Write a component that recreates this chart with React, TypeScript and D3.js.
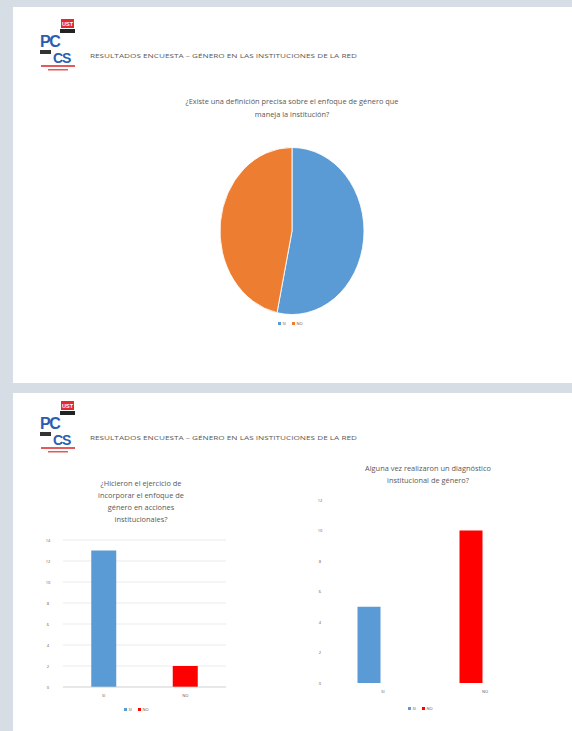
import React from "react";
import * as d3 from "d3";

const W = 572;
const H = 731;

const headerText = "RESULTADOS ENCUESTA – GÉNERO EN LAS INSTITUCIONES DE LA RED";

const pieTitle = ["¿Existe una definición precisa sobre el enfoque de género que", "maneja la institución?"];
const pieCategories = ["SI", "NO"];
const pieValues = [8, 7];
const pieColors = ["#5b9bd5", "#ed7d31"];

const bar1Title = ["¿Hicieron el ejercicio de", "incorporar el enfoque de", "género en acciones", "institucionales?"];
const bar1Categories = ["SI", "NO"];
const bar1Values = [13, 2];
const bar1Ticks = [0, 2, 4, 6, 8, 10, 12, 14];

const bar2Title = ["Alguna vez realizaron un diagnóstico", "institucional de género?"];
const bar2Categories = ["SI", "NO"];
const bar2Values = [5, 10];
const bar2Ticks = [0, 2, 4, 6, 8, 10, 12];

const barColors = ["#5b9bd5", "#ff0000"];
const TXT = "#595959";
const FONT = "Open Sans, sans-serif";
const LOGO_FONT = "Liberation Sans, sans-serif";

function Logo({ x, y }: { x: number; y: number }) {
  return (
    <g transform={`translate(${x},${y})`}>
      <rect x={21} y={0} width={13} height={9} fill="#e32b2b" />
      <text x={27.5} y={7} fontSize={5.5} fill="#fff" textAnchor="middle" fontWeight="bold" fontFamily={LOGO_FONT}>UST</text>
      <rect x={20} y={10} width={15} height={4} fill="#222" />
      <text x={0} y={28} fontSize={16} fill="#2a5db0" fontWeight="bold" fontFamily={LOGO_FONT} letterSpacing={-1.5}>PC</text>
      <text x={13} y={44} fontSize={14} fill="#2a5db0" fontWeight="bold" fontFamily={LOGO_FONT} letterSpacing={-1}>CS</text>
      <rect x={0} y={31} width={11} height={4} fill="#333" />
      <rect x={1} y={46} width={34} height={2} fill="#e35a5a" />
      <rect x={8} y={50} width={20} height={1.5} fill="#e35a5a" />
    </g>
  );
}

function Header({ y }: { y: number }) {
  return (
    <g>
      <Logo x={40} y={y - 39} />
      <text x={90} y={y} fontSize={6} fill={TXT} fontFamily={FONT} textLength={267} lengthAdjust="spacingAndGlyphs">{headerText}</text>
    </g>
  );
}

function Legend({ cx, y, cats, colors }: { cx: number; y: number; cats: string[]; colors: string[] }) {
  const step = 14;
  const start = cx - (cats.length * step) / 2;
  return (
    <g>
      {cats.map((c, i) => (
        <g key={c} transform={`translate(${start + i * step},${y})`}>
          <rect x={0} y={-3} width={3} height={3} fill={colors[i]} />
          <text x={4.5} y={0} fontSize={4} fill={TXT} fontFamily={FONT}>{c}</text>
        </g>
      ))}
    </g>
  );
}

function PieChart() {
  const cx = 292, cy = 231, r = 72, sy = 1.16;
  const arcs = d3.pie<number>().sort(null)(pieValues);
  const arc = d3.arc<d3.PieArcDatum<number>>().innerRadius(0).outerRadius(r);
  return (
    <g>
      {pieTitle.map((t, i) => (
        <text key={i} x={292} y={104 + i * 13} fontSize={7.4} fill={TXT} textAnchor="middle" fontFamily={FONT}>{t}</text>
      ))}
      <g transform={`translate(${cx},${cy}) scale(1,${sy})`}>
        {arcs.map((a, i) => (
          <path key={i} d={arc(a) || ""} fill={pieColors[i]} stroke="#fff" strokeWidth={0.8} />
        ))}
      </g>
      <Legend cx={292} y={325} cats={pieCategories} colors={pieColors} />
    </g>
  );
}

function BarChart({ title, titleX, titleY, cats, values, ticks, x0, x1, y0, y1, barW, offset, grid, labelX }: any) {
  const x = d3.scaleBand<string>().domain(cats).range([x0, x1]);
  const y = d3.scaleLinear().domain([0, ticks[ticks.length - 1]]).range([y0, y1]);
  return (
    <g>
      {title.map((t: string, i: number) => (
        <text key={i} x={titleX} y={titleY + i * 12} fontSize={7.4} fill={TXT} textAnchor="middle" fontFamily={FONT}>{t}</text>
      ))}
      {ticks.map((t: number) => (
        <g key={t}>
          {grid && <line x1={x0} x2={x1} y1={y(t)} y2={y(t)} stroke="#e3e3e3" strokeWidth={0.7} />}
          <text x={labelX} y={y(t) + 1.5} fontSize={4} fill={TXT} textAnchor="middle" fontFamily={FONT}>{t}</text>
        </g>
      ))}
      {values.map((v: number, i: number) => {
        const c = (x(cats[i]) as number) + x.bandwidth() / 2 + offset;
        return <rect key={i} x={c - barW / 2} y={y(v)} width={barW} height={y(0) - y(v)} fill={barColors[i]} />;
      })}
      {grid && <line x1={x0} x2={x1} y1={y(0)} y2={y(0)} stroke="#d0d0d0" strokeWidth={0.7} />}
      {cats.map((c: string) => (
        <text key={c} x={(x(c) as number) + x.bandwidth() / 2} y={y(0) + 10} fontSize={4} fill={TXT} textAnchor="middle" fontFamily={FONT}>{c}</text>
      ))}
    </g>
  );
}

export default function App() {
  return (
    <svg width={W} height={H} style={{ position: "absolute", left: 0, top: 0 }}>
      <rect x={0} y={0} width={W} height={H} fill="#d6dde5" />
      <rect x={13} y={7} width={W - 13} height={376} fill="#fff" />
      <rect x={13} y={393} width={W - 13} height={H - 393} fill="#fff" />
      <Header y={58} />
      <PieChart />
      <Header y={440} />
      <BarChart title={bar1Title} titleX={141} titleY={486} cats={bar1Categories} values={bar1Values} ticks={bar1Ticks}
        x0={63} x1={226} y0={687} y1={540} barW={25} offset={0} grid={true} labelX={48} />
      <Legend cx={138} y={711} cats={bar1Categories} colors={barColors} />
      <BarChart title={bar2Title} titleX={428} titleY={471} cats={bar2Categories} values={bar2Values} ticks={bar2Ticks}
        x0={332} x1={536} y0={683} y1={500} barW={23} offset={-14} grid={false} labelX={320} />
      <Legend cx={422} y={710} cats={bar2Categories} colors={barColors} />
    </svg>
  );
}
